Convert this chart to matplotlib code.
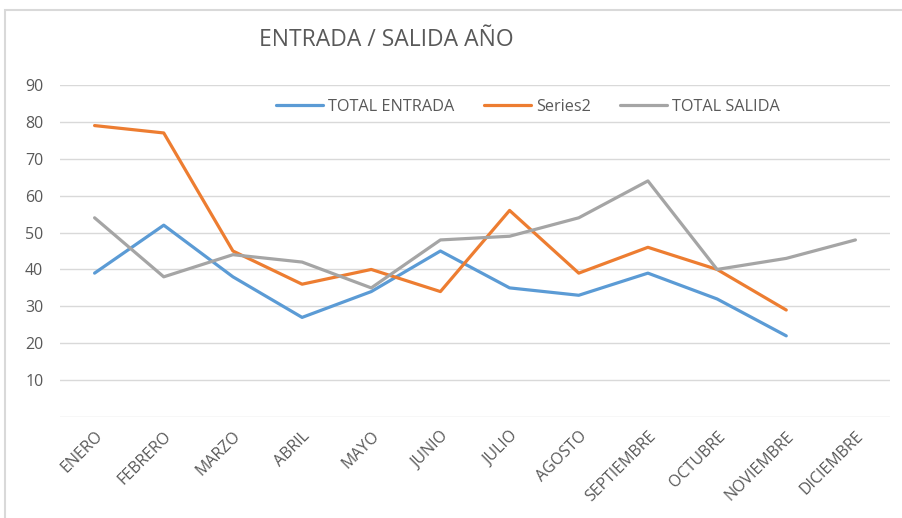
import numpy as np
import matplotlib.pyplot as plt
from matplotlib.patches import Rectangle

plt.rcParams['font.family'] = ['Open Sans', 'DejaVu Sans']

meses = ["ENERO", "FEBRERO", "MARZO", "ABRIL", "MAYO", "JUNIO", "JULIO",
         "AGOSTO", "SEPTIEMBRE", "OCTUBRE", "NOVIEMBRE", "DICIEMBRE"]
total_entrada = [39, 52, 38, 27, 34, 45, 35, 33, 39, 32, 22, np.nan]
series2 = [79, 77, 45, 36, 40, 34, 56, 39, 46, 40, 29, np.nan]
total_salida = [54, 38, 44, 42, 35, 48, 49, 54, 64, 40, 43, 48]

TXT = "#595959"
fig = plt.figure(figsize=(9.02, 5.18), dpi=100)
fig.patches.append(Rectangle((5/902, -0.1), 1.2, 1.1 - 10/518, transform=fig.transFigure,
                             fill=False, edgecolor="#D9D9D9", lw=1.5))
ax = fig.add_axes([60/902, 1 - 417/518, 830/902, 332/518])

x = np.arange(len(meses))
ax.plot(x, total_entrada, color="#5B9BD5", lw=2.3, label="TOTAL ENTRADA", solid_capstyle="round")
ax.plot(x, series2, color="#ED7D31", lw=2.3, label="Series2", solid_capstyle="round")
ax.plot(x, total_salida, color="#A5A5A5", lw=2.3, label="TOTAL SALIDA", solid_capstyle="round")

ax.set_xlim(-0.5, 11.5)
ax.set_ylim(0, 90)
ax.set_yticks(np.arange(0, 91, 10))
ax.set_yticklabels([""] + [str(v) for v in range(10, 91, 10)])
ax.grid(axis="y", color="#D9D9D9", lw=1)
ax.set_axisbelow(True)
for s in ax.spines.values():
    s.set_visible(False)
ax.tick_params(length=0, labelsize=11.5, labelcolor=TXT, pad=12)
ax.set_xticks(x)
ax.set_xticklabels(meses, rotation=45, ha="right", rotation_mode="anchor", fontsize=11.5)
ax.tick_params(axis="x", pad=8)

fig.text(386/902, 1 - 40/518, "ENTRADA / SALIDA AÑO", ha="center", va="center",
         fontsize=16.5, color=TXT)
ax.legend(loc="center", bbox_to_anchor=((528 - 60)/830, (417 - 107)/332), ncol=3,
          frameon=False, fontsize=11.7, labelcolor=TXT, handlelength=2.9, columnspacing=1.8,
          handletextpad=0.3)

fig.savefig("out.png", dpi=100)
